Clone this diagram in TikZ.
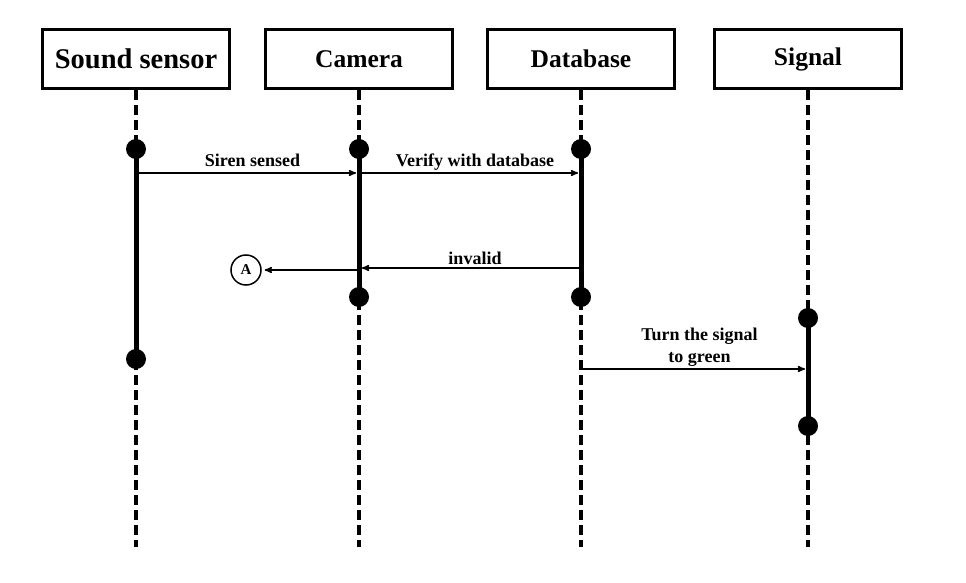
\documentclass[tikz,border=0pt]{standalone}
\usepackage{fontspec}
\setmainfont{Liberation Serif}
\usetikzlibrary{arrows,positioning}

\begin{document}
\begin{tikzpicture}[x=1pt,y=1pt,->,>=stealth',shorten >=3pt,auto,node distance=222pt,
thick,main node/.style={rectangle,draw,line width=3pt,minimum width=187pt,minimum height=59pt,font=\bfseries\fontsize{25.5}{30}\selectfont},
dot node/.style={circle,fill,inner sep=0pt,minimum size=20pt},
life/.style={-,line width=3.5pt,dash pattern=on 10pt off 5pt},
bar/.style={-,line width=5pt}]

\useasboundingbox (0,0) rectangle (966,582);

\node[main node,font=\bfseries\fontsize{28.5}{32}\selectfont] (1) at (136,523) {Sound sensor};
\node[main node] (2) [right of=1,xshift=1pt] {Camera};
\node[main node] (3) [right of=2] {Database};
\node[main node] (4) [right of=3,xshift=5pt] {Signal};

% lifelines
\foreach \n in {1,...,4}
  \draw[life] (\n.south) -- ++(0,-460);

\node[dot node] (s1) at (136,433) {};
\node[dot node] (s2) at (136,223) {};
\node[dot node] (c1) at (359,433) {};
\node[dot node] (c2) at (359,285) {};
\node[dot node] (d1) at (581,433) {};
\node[dot node] (d2) at (581,285) {};
\node[dot node] (g1) at (808,264) {};
\node[dot node] (g2) at (808,156) {};

\draw[bar] (s1.center) -- (s2.center);
\draw[bar] (c1.center) -- (c2.center);
\draw[bar] (d1.center) -- (d2.center);
\draw[bar] (g1.center) -- (g2.center);

\coordinate (m1) at (136,409);
\coordinate (m2) at (359,409);
\coordinate (m3) at (581,409);
\coordinate (m4) at (581,314);
\coordinate (m5) at (359,314);
\coordinate (m6) at (359,312);
\coordinate (m7) at (581,213);
\coordinate (m8) at (808,213);

\node[circle,draw,line width=1.5pt,minimum size=30pt,inner sep=0pt,font=\bfseries\fontsize{15}{15}\selectfont] (A) at (246,312) {A};

\path[line width=1.5pt,every node/.style={font=\bfseries\fontsize{18}{22}\selectfont,align=center,text depth=0pt,inner sep=0pt,above=6pt,xshift=5pt}]
(m1) edge node {Siren sensed} (m2)
(m2) edge node {Verify with database} (m3)
(m4) edge node[above=3pt] {invalid} (m5)
(m6) edge (A)
(m7) edge node {Turn the signal\\to green} (m8);
\end{tikzpicture}
\end{document}
